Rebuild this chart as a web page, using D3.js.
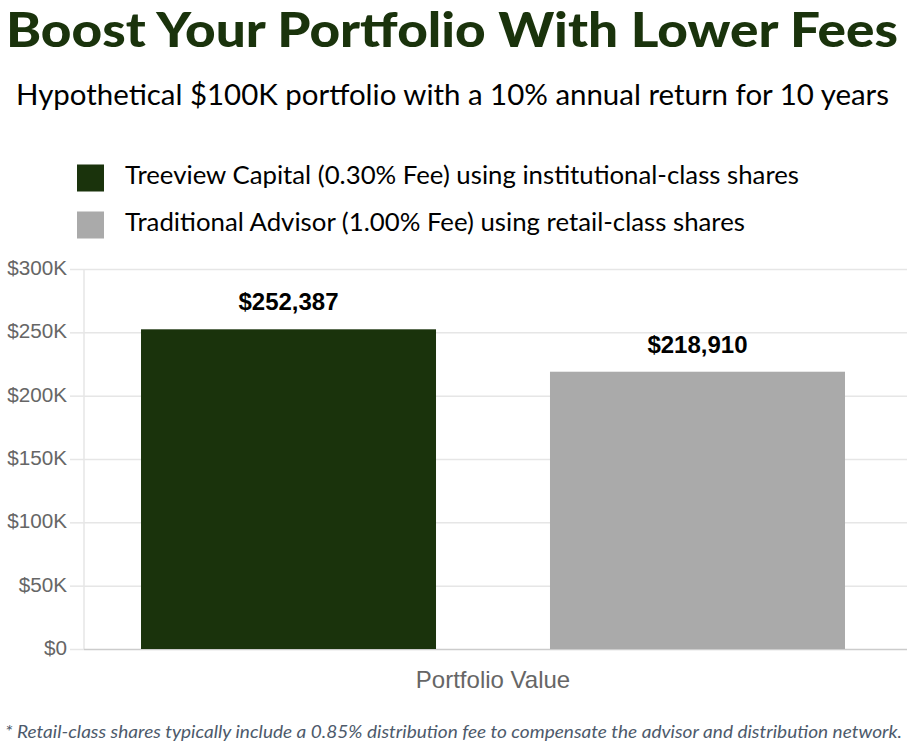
<!DOCTYPE html>
<html>
<head>
<meta charset="utf-8">
<script src="https://cdn.jsdelivr.net/npm/d3@7"></script>
<style>
  html, body { margin: 0; padding: 0; background: #fff; overflow: hidden; }
</style>
</head>
<body>
<script>
const categories = ["Portfolio Value"]
const seriesNames = [
    "Treeview Capital (0.30% Fee) using institutional-class shares",
    "Traditional Advisor (1.00% Fee) using retail-class shares"
]
const seriesValues = [252387, 218910]
const seriesColors = ["#1a330c", "#aaaaaa"]
const yTicks = [0, 50000, 100000, 150000, 200000, 250000, 300000]

const width = 907
const height = 742
const headFont = "Lato, 'Noto Sans', sans-serif"
const chartFont = "'Liberation Sans', Arial, sans-serif"

const svg = d3.select("body").append("svg")
    .attr("width", width)
    .attr("height", height)
    .style("display", "block")

// text with a fixed drawn width, the installed font runs narrower than the original
function fitted(x, y, str, size, len, opts = {}) {
    return svg.append("text")
        .attr("x", x)
        .attr("y", y)
        .attr("font-family", headFont)
        .attr("font-size", size)
        .attr("font-weight", opts.weight || 400)
        .attr("font-style", opts.style || "normal")
        .attr("fill", opts.fill || "#000")
        .attr("textLength", len)
        .attr("lengthAdjust", "spacingAndGlyphs")
        .text(str)
}

fitted(6, 46.5, "Boost Your Portfolio With Lower Fees", 47.5, 892, {weight: 900, fill: "#1a330c"})
fitted(16, 105, "Hypothetical $100K portfolio with a 10% annual return for 10 years", 28, 873)

const y = d3.scaleLinear().domain([0, 300000]).range([649, 269])
const x0 = d3.scaleBand().domain(categories).range([84, 902])
const x1 = d3.scaleBand().domain(seriesNames).range([0, x0.bandwidth()])
    .paddingInner(0.2787).paddingOuter(0.1394)

// legend
const legendY = d3.scalePoint().domain(seriesNames).range([178, 225])
const legendLens = [674, 620]
seriesNames.forEach((name, i) => {
    svg.append("rect")
        .attr("x", 77)
        .attr("y", legendY(name) - 13.5)
        .attr("width", 27)
        .attr("height", 27)
        .attr("fill", seriesColors[i])
    fitted(125, legendY(name) + 6, name, 25, legendLens[i])
})

// gridlines + y axis
const yAxis = svg.append("g")
    .attr("transform", "translate(84,0)")
    .call(d3.axisLeft(y)
        .tickValues(yTicks)
        .tickSize(14)
        .tickPadding(3)
        .tickFormat(d => d === 0 ? "$0" : "$" + d / 1000 + "K"))
yAxis.select(".domain").attr("stroke", "#e6e6e6").attr("stroke-width", 1.5).attr("d", "M0,269V649")
yAxis.selectAll(".tick line").attr("stroke", "#e6e6e6").attr("stroke-width", 1.5)
yAxis.selectAll(".tick text")
    .attr("font-family", chartFont)
    .attr("font-size", 20.7)
    .attr("y", -1)
    .attr("fill", "#666666")

svg.append("g")
    .selectAll("line")
    .data(yTicks)
    .enter().append("line")
    .attr("x1", 84)
    .attr("x2", 907)
    .attr("y1", d => y(d) + 0.5)
    .attr("y2", d => y(d) + 0.5)
    .attr("stroke", d => d === 0 ? "#cccccc" : "#e6e6e6")
    .attr("stroke-width", 1.5)

// bars
const bars = svg.append("g")
    .attr("transform", `translate(${x0(categories[0])},0)`)

bars.selectAll("rect")
    .data(seriesValues)
    .enter().append("rect")
    .attr("x", (d, i) => x1(seriesNames[i]))
    .attr("y", d => y(d))
    .attr("width", x1.bandwidth())
    .attr("height", d => y(0) - y(d))
    .attr("fill", (d, i) => seriesColors[i])

bars.selectAll("text")
    .data(seriesValues)
    .enter().append("text")
    .attr("x", (d, i) => x1(seriesNames[i]) + x1.bandwidth() / 2)
    .attr("y", d => y(d) - 19)
    .attr("text-anchor", "middle")
    .attr("font-family", chartFont)
    .attr("font-size", 24)
    .attr("font-weight", 700)
    .attr("fill", "#000")
    .text(d => "$" + d3.format(",")(d))

// category label
svg.append("text")
    .attr("x", x0(categories[0]) + x0.bandwidth() / 2)
    .attr("y", 688)
    .attr("text-anchor", "middle")
    .attr("font-family", chartFont)
    .attr("font-size", 24)
    .attr("fill", "#666666")
    .text(categories[0])

fitted(5, 738, "* Retail-class shares typically include a 0.85% distribution fee to compensate the advisor and distribution network.", 18, 897, {style: "italic", fill: "#4d5a6b"})
</script>
</body>
</html>
